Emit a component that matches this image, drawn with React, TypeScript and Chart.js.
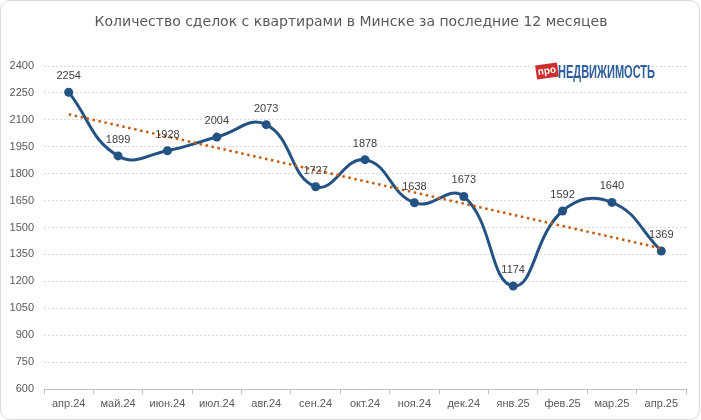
import React, { useEffect, useRef } from "react";
import { Chart, registerables } from "chart.js";

Chart.register(...registerables);

const titleText = "Количество сделок с квартирами в Минске за последние 12 месяцев";
const months = ["апр.24", "май.24", "июн.24", "июл.24", "авг.24", "сен.24", "окт.24", "ноя.24", "дек.24", "янв.25", "фев.25", "мар.25", "апр.25"];
const deals = [2254, 1899, 1928, 2004, 2073, 1727, 1878, 1638, 1673, 1174, 1592, 1640, 1369];
// linear trendline end values
const trendEnds = [2131, 1384];
const yMin = 600;
const yMax = 2400;
const yStep = 150;

const overlay = {
  id: "overlay",
  afterDatasetsDraw(chart: any) {
    const ctx: CanvasRenderingContext2D = chart.ctx;
    const meta = chart.getDatasetMeta(1);
    ctx.save();
    ctx.font = '11px "Liberation Sans", Arial, sans-serif';
    ctx.fillStyle = "#404040";
    ctx.textAlign = "center";
    ctx.textBaseline = "middle";
    meta.data.forEach((pt: any, i: number) => {
      ctx.fillText(String(deals[i]), pt.x, pt.y - 16);
    });

    // title
    ctx.font = '14px "DejaVu Sans", sans-serif';
    ctx.fillStyle = "#595959";
    ctx.fillText(titleText, 351, 22);

    // logo badge
    ctx.save();
    ctx.translate(547, 71);
    ctx.rotate(-0.14);
    ctx.fillStyle = "#cf2e2e";
    ctx.fillRect(-11, -7, 22, 14);
    ctx.fillStyle = "#ffffff";
    ctx.font = 'bold 10px "Liberation Sans", Arial, sans-serif';
    ctx.textAlign = "center";
    ctx.textBaseline = "middle";
    ctx.fillText("про", 0, 0);
    ctx.restore();

    // logo text
    ctx.save();
    ctx.font = 'bold 18px "Liberation Sans Narrow", "Liberation Sans", Arial, sans-serif';
    const word = "НЕДВИЖИМОСТЬ";
    const w = ctx.measureText(word).width;
    ctx.translate(558, 78);
    ctx.scale(97 / w, 1);
    ctx.fillStyle = "#2f5e9c";
    ctx.textAlign = "left";
    ctx.textBaseline = "alphabetic";
    ctx.fillText(word, 0, 0);
    ctx.restore();

    ctx.restore();
  },
};

export default function App() {
  const ref = useRef<HTMLCanvasElement>(null);

  useEffect(() => {
    const canvas = ref.current!;
    const trendData = months.map((_, i) =>
      i === 0 ? trendEnds[0] : i === months.length - 1 ? trendEnds[1] : null
    );
    const chart = new Chart(canvas, {
      type: "line",
      data: {
        labels: months,
        datasets: [
          {
            label: "trend",
            data: trendData as any,
            spanGaps: true,
            borderColor: "#c55a11",
            borderWidth: 2.5,
            borderDash: [2.5, 3.6],
            pointRadius: 0,
            tension: 0,
            fill: false,
          },
          {
            label: "deals",
            data: deals,
            borderColor: "#245383",
            backgroundColor: "#245383",
            borderWidth: 3,
            pointRadius: 4.5,
            pointBackgroundColor: "#245383",
            pointBorderWidth: 0,
            tension: 0.45,
            fill: false,
          },
        ],
      },
      options: {
        responsive: false,
        animation: false,
        devicePixelRatio: 1,
        layout: { padding: { top: 66, right: 15, left: 0, bottom: 0 } },
        plugins: {
          legend: { display: false },
          tooltip: { enabled: false },
          title: { display: false },
        },
        scales: {
          x: {
            offset: true,
            grid: {
              display: true,
              offset: true,
              drawOnChartArea: false,
              drawTicks: true,
              tickLength: 5,
              color: "#bfbfbf",
            },
            border: { display: true, color: "#bfbfbf", width: 1 },
            ticks: {
              color: "#595959",
              font: { family: '"Liberation Sans", Arial, sans-serif', size: 11 },
              padding: 3,
              maxRotation: 0,
              autoSkip: false,
            },
            afterFit(s: any) {
              s.height = 31;
            },
          },
          y: {
            min: yMin,
            max: yMax,
            grid: { color: "#d9d9d9", drawTicks: false, lineWidth: 1 },
            border: { display: false, dash: [2, 2] },
            ticks: {
              stepSize: yStep,
              color: "#595959",
              font: { family: '"Liberation Sans", Arial, sans-serif', size: 11 },
              padding: 10,
              callback: (v: any) => String(v),
            },
            afterFit(s: any) {
              s.width = 44;
            },
          },
        },
      },
      plugins: [overlay],
    });
    return () => chart.destroy();
  }, []);

  return (
    <div style={{ position: "fixed", left: 0, top: 0, width: 701, height: 420, background: "#ffffff" }}>
      <canvas
        ref={ref}
        width={701}
        height={420}
        style={{ position: "absolute", left: 0, top: 0, width: 701, height: 420 }}
      />
      <div
        style={{
          position: "absolute",
          left: 0,
          top: 0,
          width: 700,
          height: 420,
          border: "1px solid #d9d9d9",
          borderRadius: 10,
          boxSizing: "border-box",
          pointerEvents: "none",
        }}
      />
    </div>
  );
}
